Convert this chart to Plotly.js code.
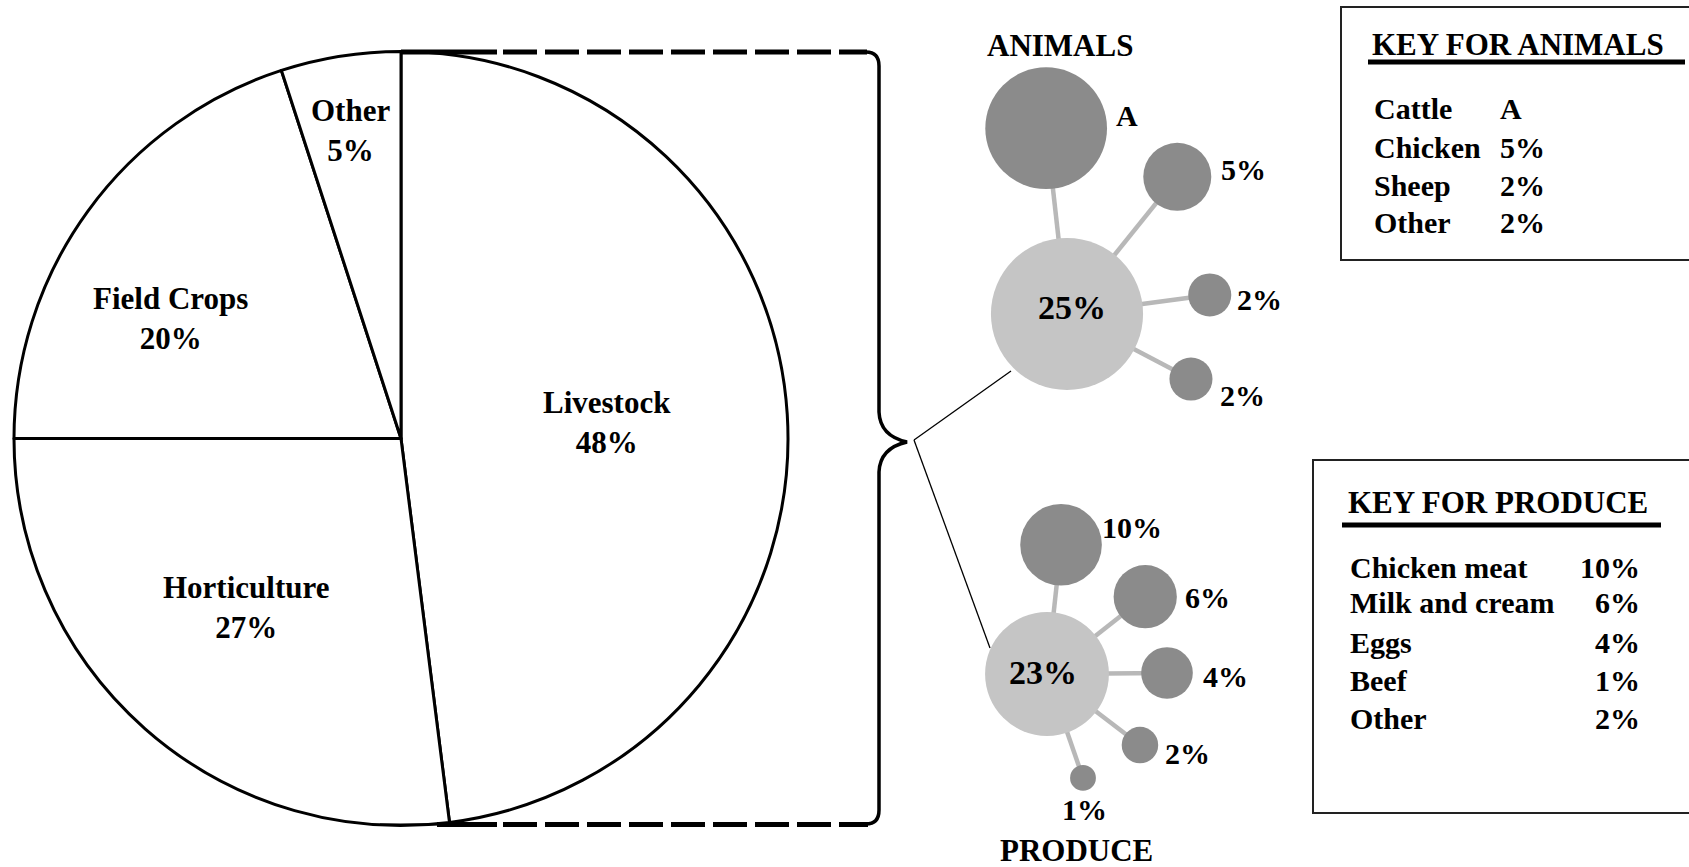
<!DOCTYPE html>
<html><head><meta charset="utf-8">
<script src="https://cdn.plot.ly/plotly-3.0.1.min.js"></script>
<style>html,body{margin:0;padding:0;background:#fff;overflow:hidden}</style>
</head><body><div id="chart" style="width:1689px;height:867px"></div>
<script>
// ---------------- data ----------------
const sectorLabels = ['Livestock', 'Horticulture', 'Field Crops', 'Other'];
const sectorValues = [48, 27, 20, 5];

const animalsTitle = 'ANIMALS';
const animalsTotal = 25;
const animalLabels = ['Cattle', 'Chicken', 'Sheep', 'Other'];
const animalValues = [16, 5, 2, 2];              // cattle = "A" (estimated 25 - 5 - 2 - 2)
const animalValueText = ['A', '5%', '2%', '2%'];

const produceTitle = 'PRODUCE';
const produceTotal = 23;
const produceLabels = ['Chicken meat', 'Milk and cream', 'Eggs', 'Beef', 'Other'];
const produceValues = [10, 6, 4, 1, 2];

// ---------------- layout / style constants ----------------
const W = 1689, H = 867;
const pieGeom = {cx: 401, cy: 438.5, r: 387};
const pieLabelPos = [[607, 422], [246, 607], [170, 318], [350, 130]];

const animalHub = [1067, 314];
const animalSpokes = [[-6.4, 187], [38.8, 176], [82.4, 144], [117.7, 140]];   // angle (deg, clockwise from up), length
const animalLabelOffset = [[81, -13], [66, -7], [50, 5], [52, 16]];
const animalSizeRef = 0.00216;

const produceOrder = [0, 1, 2, 4, 3];            // bubble order around the hub
const produceHub = [1047, 674];
const produceSpokes = [[6.2, 130], [51.8, 125], [89.5, 120], [127.4, 117], [160.9, 110]];
const produceLabelOffset = [[71, -17], [62, 1], [58, 4], [48, 8], [2, 32]];
const produceSizeRef = 0.0030;

const FONT = 'Liberation Serif, Times New Roman, serif';
const DARK = '#8b8b8b', LIGHT = '#c5c5c5', SPOKE = '#b8b8b8';

function spokePos(hub, spokes) {
  return spokes.map(([a, len]) => {
    const t = a * Math.PI / 180;
    return [hub[0] + len * Math.sin(t), hub[1] - len * Math.cos(t)];
  });
}
const animalPts = spokePos(animalHub, animalSpokes);
const producePts = spokePos(produceHub, produceSpokes);

function spokeTrace(hub, pts) {
  const x = [], y = [];
  pts.forEach(p => { x.push(hub[0], p[0], null); y.push(hub[1], p[1], null); });
  return {type: 'scatter', mode: 'lines', x, y, xaxis: 'x', yaxis: 'y',
          line: {color: SPOKE, width: 4.5}, hoverinfo: 'skip', showlegend: false};
}
function bubbleTrace(hub, pts, hubVal, vals, sref) {
  return {type: 'scatter', mode: 'markers', xaxis: 'x', yaxis: 'y',
    x: [hub[0]].concat(pts.map(p => p[0])),
    y: [hub[1]].concat(pts.map(p => p[1])),
    marker: {size: [hubVal].concat(vals), sizemode: 'area', sizeref: sref,
             color: [LIGHT].concat(vals.map(() => DARK)), line: {width: 0}, opacity: 1},
    hoverinfo: 'skip', showlegend: false};
}

const producePlotVals = produceOrder.map(i => produceValues[i]);
const produceText = produceOrder.map(i => produceValues[i] + '%');

const traces = [
  {type: 'pie', labels: sectorLabels, values: sectorValues, sort: false,
   direction: 'clockwise', rotation: 0, textinfo: 'none', hoverinfo: 'label+percent',
   marker: {colors: sectorLabels.map(() => '#ffffff'), line: {color: '#000', width: 3}},
   domain: {x: [(pieGeom.cx - pieGeom.r) / W, (pieGeom.cx + pieGeom.r) / W],
            y: [(H - pieGeom.cy - pieGeom.r) / H, (H - pieGeom.cy + pieGeom.r) / H]},
   showlegend: false},
  spokeTrace(animalHub, animalPts),
  bubbleTrace(animalHub, animalPts, animalsTotal, animalValues, animalSizeRef),
  spokeTrace(produceHub, producePts),
  bubbleTrace(produceHub, producePts, produceTotal, producePlotVals, produceSizeRef)
];

const ann = [];
function txt(x, y, text, size, anchor, extra) {
  ann.push(Object.assign({x, y, xref: 'x', yref: 'y', text, showarrow: false,
    xanchor: anchor || 'center', yanchor: 'middle',
    font: {family: FONT, size, color: '#000', weight: 700}}, extra || {}));
}
// pie labels
sectorLabels.forEach((l, i) => txt(pieLabelPos[i][0], pieLabelPos[i][1], l + '<br>' + sectorValues[i] + '%', 31));
// bubble labels
txt(animalHub[0] + 5, animalHub[1] - 7, animalsTotal + '%', 34);
animalPts.forEach((p, i) => txt(p[0] + animalLabelOffset[i][0], p[1] + animalLabelOffset[i][1], animalValueText[i], 30));
txt(produceHub[0] - 4, produceHub[1] - 2, produceTotal + '%', 34);
producePts.forEach((p, i) => txt(p[0] + produceLabelOffset[i][0], p[1] + produceLabelOffset[i][1], produceText[i], 30));
txt(1060, 45, animalsTitle, 31);
txt(1076, 850, produceTitle, 31);
// keys
txt(1370, 44, 'KEY FOR ANIMALS', 31, 'left');
const animalKeyY = [108, 147, 185, 222];
animalLabels.forEach((l, i) => {
  txt(1372, animalKeyY[i], l, 30, 'left');
  txt(1498, animalKeyY[i], animalValueText[i], 30, 'left');
});
txt(1346, 502, 'KEY FOR PRODUCE', 31, 'left');
const produceKeyY = [567, 602, 642, 680, 718];
produceLabels.forEach((l, i) => {
  txt(1348, produceKeyY[i], l, 30, 'left');
  txt(1642, produceKeyY[i], produceValues[i] + '%', 30, 'right');
});

function seg(x0, y0, x1, y1, width, dash) {
  return {type: 'line', xref: 'x', yref: 'y', x0, y0, x1, y1,
          line: {color: '#000', width, dash: dash || 'solid'}};
}
const shapes = [
  seg(380, 52, 401, 52, 2), seg(401, 52, 497, 52, 5), seg(503, 52, 867, 52, 5, '34px,8px'),
  seg(380, 824.5, 437, 824.5, 2), seg(437, 824.5, 497, 824.5, 5), seg(503, 824.5, 868, 824.5, 5, '34px,8px'),
  {type: 'path', xref: 'x', yref: 'y',
   path: 'M 866 52 Q 879 52 879 66 L 879 412 Q 880 436 907 442 Q 880 448 879 472 L 879 810 Q 879 824 866 824',
   line: {color: '#000', width: 3.5}},
  seg(914, 440, 1011, 371, 1.3), seg(914, 440, 990, 648, 1.3),
  {type: 'rect', xref: 'x', yref: 'y', x0: 1341, y0: 7, x1: 1700, y1: 260, line: {color: '#222', width: 2}},
  seg(1368, 62, 1685, 62, 5),
  {type: 'rect', xref: 'x', yref: 'y', x0: 1313, y0: 460, x1: 1700, y1: 813, line: {color: '#222', width: 2}},
  seg(1342, 525, 1661, 525, 5)
];

const layout = {
  width: W, height: H, margin: {l: 0, r: 0, t: 0, b: 0, pad: 0},
  paper_bgcolor: '#fff', plot_bgcolor: 'rgba(0,0,0,0)', showlegend: false,
  xaxis: {range: [0, W], visible: false, fixedrange: true, domain: [0, 1]},
  yaxis: {range: [H, 0], visible: false, fixedrange: true, domain: [0, 1]},
  annotations: ann, shapes: shapes
};
Plotly.newPlot('chart', traces, layout, {displayModeBar: false, staticPlot: true});
</script></body></html>
